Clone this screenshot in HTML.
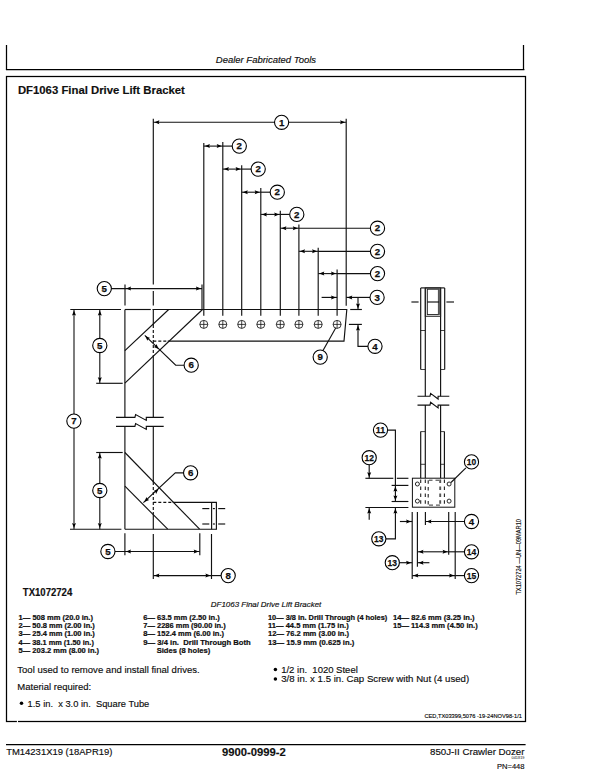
<!DOCTYPE html>
<html><head><meta charset="utf-8"><style>
html,body{margin:0;padding:0;background:#fff;}
body{width:603px;height:779px;overflow:hidden;}
svg{display:block;font-family:"Liberation Sans",sans-serif;fill:#111;}
svg text{fill:#111;white-space:pre;}
</style></head><body>
<svg width="603" height="779" viewBox="0 0 603 779">
<line x1="6.5" y1="45" x2="6.5" y2="69.5" stroke="#000" stroke-width="1.25"/>
<line x1="523.5" y1="45" x2="523.5" y2="69.5" stroke="#000" stroke-width="1.25"/>
<line x1="5.9" y1="69.5" x2="524.4" y2="69.5" stroke="#000" stroke-width="1.25"/>
<rect x="6.5" y="76.5" width="519" height="645" fill="none" stroke="#000" stroke-width="1.25"/>
<line x1="6" y1="744.5" x2="525.6" y2="744.5" stroke="#000" stroke-width="1.25"/>
<rect x="16.9" y="720" width="1.1" height="3" fill="#fff"/>
<text x="215.8" y="62.9" font-size="9.5" font-weight="normal" font-style="italic" text-anchor="start" textLength="100.3" lengthAdjust="spacingAndGlyphs" stroke="#000" stroke-width="0.15">Dealer Fabricated Tools</text>
<text x="17.9" y="94.2" font-size="11.3" font-weight="bold" font-style="normal" text-anchor="start" textLength="167" lengthAdjust="spacingAndGlyphs" stroke="#000" stroke-width="0.15">DF1063 Final Drive Lift Bracket</text>
<text x="22.8" y="595.9" font-size="10.2" font-weight="bold" font-style="normal" text-anchor="start" textLength="49.4" lengthAdjust="spacingAndGlyphs" stroke="#000" stroke-width="0.15">TX1072724</text>
<text x="210.8" y="606.6" font-size="7.9" font-weight="normal" font-style="italic" text-anchor="start" textLength="110.5" lengthAdjust="spacingAndGlyphs" stroke="#000" stroke-width="0.15">DF1063 Final Drive Lift Bracket</text>
<text x="18.6" y="619.7" font-size="7.6" font-weight="bold" font-style="normal" text-anchor="start" textLength="74.38" lengthAdjust="spacingAndGlyphs" stroke="#000" stroke-width="0.2">1— 508 mm (20.0 in.)</text>
<text x="18.6" y="628.3" font-size="7.6" font-weight="bold" font-style="normal" text-anchor="start" textLength="76.29" lengthAdjust="spacingAndGlyphs" stroke="#000" stroke-width="0.2">2— 50.8 mm (2.00 in.)</text>
<text x="18.6" y="636.2" font-size="7.6" font-weight="bold" font-style="normal" text-anchor="start" textLength="76.29" lengthAdjust="spacingAndGlyphs" stroke="#000" stroke-width="0.2">3— 25.4 mm (1.00 in.)</text>
<text x="18.6" y="644.8" font-size="7.6" font-weight="bold" font-style="normal" text-anchor="start" textLength="75.31" lengthAdjust="spacingAndGlyphs" stroke="#000" stroke-width="0.2">4— 38.1 mm (1.50 in.)</text>
<text x="18.6" y="652.6" font-size="7.6" font-weight="bold" font-style="normal" text-anchor="start" textLength="80.51" lengthAdjust="spacingAndGlyphs" stroke="#000" stroke-width="0.2">5— 203.2 mm (8.00 in.)</text>
<text x="143.3" y="619.7" font-size="7.6" font-weight="bold" font-style="normal" text-anchor="start" textLength="76.5" lengthAdjust="spacingAndGlyphs" stroke="#000" stroke-width="0.2">6— 63.5 mm (2.50 in.)</text>
<text x="143.3" y="628.3" font-size="7.6" font-weight="bold" font-style="normal" text-anchor="start" textLength="82.34" lengthAdjust="spacingAndGlyphs" stroke="#000" stroke-width="0.2">7— 2286 mm (90.00 in.)</text>
<text x="143.3" y="636.2" font-size="7.6" font-weight="bold" font-style="normal" text-anchor="start" textLength="80.73" lengthAdjust="spacingAndGlyphs" stroke="#000" stroke-width="0.2">8— 152.4 mm (6.00 in.)</text>
<text x="143.3" y="644.8" font-size="7.6" font-weight="bold" font-style="normal" text-anchor="start" textLength="107.42" lengthAdjust="spacingAndGlyphs" stroke="#000" stroke-width="0.2">9— 3/4 in.  Drill Through Both</text>
<text x="156.7" y="652.6" font-size="7.6" font-weight="bold" font-style="normal" text-anchor="start" textLength="53.53" lengthAdjust="spacingAndGlyphs" stroke="#000" stroke-width="0.2">Sides (8 holes)</text>
<text x="268.0" y="619.7" font-size="7.6" font-weight="bold" font-style="normal" text-anchor="start" textLength="119.3" lengthAdjust="spacingAndGlyphs" stroke="#000" stroke-width="0.2">10— 3/8 in. Drill Through (4 holes)</text>
<text x="268.0" y="628.3" font-size="7.6" font-weight="bold" font-style="normal" text-anchor="start" textLength="80.7" lengthAdjust="spacingAndGlyphs" stroke="#000" stroke-width="0.2">11— 44.5 mm (1.75 in.)</text>
<text x="268.0" y="636.2" font-size="7.6" font-weight="bold" font-style="normal" text-anchor="start" textLength="81.12" lengthAdjust="spacingAndGlyphs" stroke="#000" stroke-width="0.2">12— 76.2 mm (3.00 in.)</text>
<text x="268.0" y="644.8" font-size="7.6" font-weight="bold" font-style="normal" text-anchor="start" textLength="86.35" lengthAdjust="spacingAndGlyphs" stroke="#000" stroke-width="0.2">13— 15.9 mm (0.625 in.)</text>
<text x="393.0" y="619.7" font-size="7.6" font-weight="bold" font-style="normal" text-anchor="start" textLength="81.63" lengthAdjust="spacingAndGlyphs" stroke="#000" stroke-width="0.2">14— 82.6 mm (3.25 in.)</text>
<text x="393.0" y="628.3" font-size="7.6" font-weight="bold" font-style="normal" text-anchor="start" textLength="84.73" lengthAdjust="spacingAndGlyphs" stroke="#000" stroke-width="0.2">15— 114.3 mm (4.50 in.)</text>
<text x="17.3" y="673.2" font-size="9.5" font-weight="normal" font-style="normal" text-anchor="start" textLength="182.4" lengthAdjust="spacingAndGlyphs" stroke="#000" stroke-width="0.15">Tool used to remove and install final drives.</text>
<text x="17.3" y="690.3" font-size="9.5" font-weight="normal" font-style="normal" text-anchor="start" stroke="#000" stroke-width="0.15">Material required:</text>
<circle cx="21.5" cy="703.3" r="1.75" fill="#000"/>
<text x="27.6" y="706.8" font-size="9.5" font-weight="normal" font-style="normal" text-anchor="start" textLength="121.7" lengthAdjust="spacingAndGlyphs" stroke="#000" stroke-width="0.15">1.5 in.  x 3.0 in.  Square Tube</text>
<circle cx="275.4" cy="669.4" r="1.75" fill="#000"/>
<text x="281.2" y="672.9" font-size="9.5" font-weight="normal" font-style="normal" text-anchor="start" stroke="#000" stroke-width="0.15">1/2 in.  1020 Steel</text>
<circle cx="275.4" cy="678.9" r="1.75" fill="#000"/>
<text x="281.2" y="682.4" font-size="9.5" font-weight="normal" font-style="normal" text-anchor="start" textLength="188" lengthAdjust="spacingAndGlyphs" stroke="#000" stroke-width="0.15">3/8 in. x 1.5 in. Cap Screw with Nut (4 used)</text>
<text x="424.4" y="717.9" font-size="5.7" font-weight="normal" font-style="normal" text-anchor="start" textLength="97.5" lengthAdjust="spacingAndGlyphs" stroke="#000" stroke-width="0.15">CED,TX03399,5076 -19-24NOV98-1/1</text>
<text x="6.2" y="755.4" font-size="9.5" font-weight="normal" font-style="normal" text-anchor="start" textLength="106.2" lengthAdjust="spacingAndGlyphs" stroke="#000" stroke-width="0.15">TM14231X19 (18APR19)</text>
<text x="221.9" y="755.9" font-size="11.3" font-weight="bold" font-style="normal" text-anchor="start" textLength="63.9" lengthAdjust="spacingAndGlyphs" stroke="#000" stroke-width="0.15">9900-0999-2</text>
<text x="430" y="755.1" font-size="9.7" font-weight="normal" font-style="normal" text-anchor="start" textLength="94.5" lengthAdjust="spacingAndGlyphs" stroke="#000" stroke-width="0.15">850J-II Crawler Dozer</text>
<text x="511.5" y="759" font-size="3" font-weight="normal" font-style="normal" text-anchor="start" textLength="13" lengthAdjust="spacingAndGlyphs">041819</text>
<text x="497" y="768.7" font-size="7.5" font-weight="normal" font-style="normal" text-anchor="start" textLength="27.5" lengthAdjust="spacingAndGlyphs" stroke="#000" stroke-width="0.15">PN=448</text>
<text x="0" y="0" font-size="6.4" textLength="75.6" lengthAdjust="spacingAndGlyphs" stroke="#000" stroke-width="0.12" transform="translate(520.5,594.6) rotate(-90)">TX1072724 —UN—09MAR10</text>
<line x1="153.3" y1="118.7" x2="153.3" y2="284.5" stroke="#111" stroke-width="1.15"/>
<line x1="153.3" y1="291" x2="153.3" y2="305.5" stroke="#111" stroke-width="1.15"/>
<line x1="153.3" y1="309.5" x2="153.3" y2="325" stroke="#111" stroke-width="1.15"/>
<line x1="153.3" y1="325" x2="153.3" y2="357" stroke="#111" stroke-width="1.15" stroke-dasharray="3,2"/>
<line x1="153.3" y1="357" x2="153.3" y2="417.4" stroke="#111" stroke-width="1.15"/>
<line x1="346.2" y1="118.7" x2="346.2" y2="305.7" stroke="#111" stroke-width="1.15"/>
<line x1="153.3" y1="122.2" x2="346.2" y2="122.2" stroke="#111" stroke-width="1.1"/>
<polygon points="154.40,122.20 159.40,120.20 158.60,122.20 159.40,124.20" fill="#000"/>
<polygon points="345.10,122.20 340.10,124.20 340.90,122.20 340.10,120.20" fill="#000"/>
<circle cx="281.6" cy="122.3" r="7.1" fill="#fff" stroke="#000" stroke-width="1.1"/>
<text x="281.6" y="125.5" font-size="9.7" font-weight="bold" text-anchor="middle" stroke="#000" stroke-width="0.25">1</text>
<line x1="203.8" y1="142.9" x2="203.8" y2="315.7" stroke="#111" stroke-width="1.15"/>
<line x1="222.8" y1="142.0" x2="222.8" y2="315.7" stroke="#111" stroke-width="1.15"/>
<line x1="241.7" y1="165.2" x2="241.7" y2="315.7" stroke="#111" stroke-width="1.15"/>
<line x1="260.8" y1="188.0" x2="260.8" y2="315.7" stroke="#111" stroke-width="1.15"/>
<line x1="280.3" y1="210.8" x2="280.3" y2="315.7" stroke="#111" stroke-width="1.15"/>
<line x1="298.9" y1="224.5" x2="298.9" y2="315.7" stroke="#111" stroke-width="1.15"/>
<line x1="318.2" y1="247.7" x2="318.2" y2="315.7" stroke="#111" stroke-width="1.15"/>
<line x1="337.1" y1="269.6" x2="337.1" y2="315.7" stroke="#111" stroke-width="1.15"/>
<line x1="203.8" y1="146.1" x2="222.8" y2="146.1" stroke="#111" stroke-width="1.1"/>
<polygon points="204.90,146.10 209.90,144.10 209.10,146.10 209.90,148.10" fill="#000"/>
<polygon points="221.70,146.10 216.70,148.10 217.50,146.10 216.70,144.10" fill="#000"/>
<line x1="222.8" y1="146.1" x2="232.20000000000002" y2="146.1" stroke="#111" stroke-width="1.15"/>
<circle cx="239.3" cy="146.1" r="7.1" fill="#fff" stroke="#000" stroke-width="1.1"/>
<text x="239.3" y="149.29999999999998" font-size="9.7" font-weight="bold" text-anchor="middle" stroke="#000" stroke-width="0.25">2</text>
<line x1="222.8" y1="169.1" x2="241.7" y2="169.1" stroke="#111" stroke-width="1.1"/>
<polygon points="223.90,169.10 228.90,167.10 228.10,169.10 228.90,171.10" fill="#000"/>
<polygon points="240.60,169.10 235.60,171.10 236.40,169.10 235.60,167.10" fill="#000"/>
<line x1="241.7" y1="169.1" x2="251.1" y2="169.1" stroke="#111" stroke-width="1.15"/>
<circle cx="258.2" cy="169.1" r="7.1" fill="#fff" stroke="#000" stroke-width="1.1"/>
<text x="258.2" y="172.29999999999998" font-size="9.7" font-weight="bold" text-anchor="middle" stroke="#000" stroke-width="0.25">2</text>
<line x1="241.7" y1="192.2" x2="260.8" y2="192.2" stroke="#111" stroke-width="1.1"/>
<polygon points="242.80,192.20 247.80,190.20 247.00,192.20 247.80,194.20" fill="#000"/>
<polygon points="259.70,192.20 254.70,194.20 255.50,192.20 254.70,190.20" fill="#000"/>
<line x1="260.8" y1="192.2" x2="270.2" y2="192.2" stroke="#111" stroke-width="1.15"/>
<circle cx="277.3" cy="192.2" r="7.1" fill="#fff" stroke="#000" stroke-width="1.1"/>
<text x="277.3" y="195.39999999999998" font-size="9.7" font-weight="bold" text-anchor="middle" stroke="#000" stroke-width="0.25">2</text>
<line x1="260.8" y1="214.4" x2="280.3" y2="214.4" stroke="#111" stroke-width="1.1"/>
<polygon points="261.90,214.40 266.90,212.40 266.10,214.40 266.90,216.40" fill="#000"/>
<polygon points="279.20,214.40 274.20,216.40 275.00,214.40 274.20,212.40" fill="#000"/>
<line x1="280.3" y1="214.4" x2="289.7" y2="214.4" stroke="#111" stroke-width="1.15"/>
<circle cx="296.8" cy="214.4" r="7.1" fill="#fff" stroke="#000" stroke-width="1.1"/>
<text x="296.8" y="217.6" font-size="9.7" font-weight="bold" text-anchor="middle" stroke="#000" stroke-width="0.25">2</text>
<line x1="280.3" y1="228.2" x2="298.9" y2="228.2" stroke="#111" stroke-width="1.1"/>
<polygon points="281.40,228.20 286.40,226.20 285.60,228.20 286.40,230.20" fill="#000"/>
<polygon points="297.80,228.20 292.80,230.20 293.60,228.20 292.80,226.20" fill="#000"/>
<line x1="298.9" y1="228.2" x2="370.4" y2="228.2" stroke="#111" stroke-width="1.15"/>
<circle cx="377.5" cy="228.2" r="7.1" fill="#fff" stroke="#000" stroke-width="1.1"/>
<text x="377.5" y="231.39999999999998" font-size="9.7" font-weight="bold" text-anchor="middle" stroke="#000" stroke-width="0.25">2</text>
<line x1="298.9" y1="251.3" x2="318.2" y2="251.3" stroke="#111" stroke-width="1.1"/>
<polygon points="300.00,251.30 305.00,249.30 304.20,251.30 305.00,253.30" fill="#000"/>
<polygon points="317.10,251.30 312.10,253.30 312.90,251.30 312.10,249.30" fill="#000"/>
<line x1="318.2" y1="251.3" x2="370.4" y2="251.3" stroke="#111" stroke-width="1.15"/>
<circle cx="377.5" cy="251.3" r="7.1" fill="#fff" stroke="#000" stroke-width="1.1"/>
<text x="377.5" y="254.5" font-size="9.7" font-weight="bold" text-anchor="middle" stroke="#000" stroke-width="0.25">2</text>
<line x1="318.2" y1="273.6" x2="337.1" y2="273.6" stroke="#111" stroke-width="1.1"/>
<polygon points="319.30,273.60 324.30,271.60 323.50,273.60 324.30,275.60" fill="#000"/>
<polygon points="336.00,273.60 331.00,275.60 331.80,273.60 331.00,271.60" fill="#000"/>
<line x1="337.1" y1="273.6" x2="370.4" y2="273.6" stroke="#111" stroke-width="1.15"/>
<circle cx="377.5" cy="273.6" r="7.1" fill="#fff" stroke="#000" stroke-width="1.1"/>
<text x="377.5" y="276.8" font-size="9.7" font-weight="bold" text-anchor="middle" stroke="#000" stroke-width="0.25">2</text>
<line x1="321.6" y1="297.4" x2="337.1" y2="297.4" stroke="#111" stroke-width="1.15"/>
<polygon points="336.00,297.40 331.00,299.40 331.80,297.40 331.00,295.40" fill="#000"/>
<line x1="346.2" y1="297.4" x2="370" y2="297.4" stroke="#111" stroke-width="1.15"/>
<polygon points="347.30,297.40 352.30,295.40 351.50,297.40 352.30,299.40" fill="#000"/>
<circle cx="377.1" cy="297.4" r="7.1" fill="#fff" stroke="#000" stroke-width="1.1"/>
<text x="377.1" y="300.59999999999997" font-size="9.7" font-weight="bold" text-anchor="middle" stroke="#000" stroke-width="0.25">3</text>
<line x1="358" y1="297.4" x2="358" y2="309.5" stroke="#111" stroke-width="1.15"/>
<polygon points="358.00,308.40 356.00,303.40 358.00,304.20 360.00,303.40" fill="#000"/>
<line x1="350.2" y1="309.5" x2="361.9" y2="309.5" stroke="#111" stroke-width="1.15"/>
<line x1="348.9" y1="324.4" x2="361.9" y2="324.4" stroke="#111" stroke-width="1.15"/>
<polyline points="358,324.4 358,346.3 368,346.3" fill="none" stroke="#111" stroke-width="1.15"/>
<polygon points="358.00,325.50 360.00,330.50 358.00,329.70 356.00,330.50" fill="#000"/>
<circle cx="375" cy="346.3" r="7.1" fill="#fff" stroke="#000" stroke-width="1.1"/>
<text x="375" y="349.5" font-size="9.7" font-weight="bold" text-anchor="middle" stroke="#000" stroke-width="0.25">4</text>
<polyline points="125,309.5 150.8,309.5" fill="none" stroke="#111" stroke-width="1.15"/>
<polyline points="152.5,309.5 346.8,309.5 344,341.1 167.7,341.1" fill="none" stroke="#111" stroke-width="1.15"/>
<line x1="153.3" y1="341.1" x2="167.7" y2="341.1" stroke="#111" stroke-width="1.15" stroke-dasharray="3,2"/>
<circle cx="203.8" cy="324.4" r="4" fill="#fff" stroke="#222" stroke-width="0.9"/>
<line x1="199.8" y1="324.4" x2="207.8" y2="324.4" stroke="#111" stroke-width="0.8"/>
<line x1="203.8" y1="320.4" x2="203.8" y2="328.4" stroke="#111" stroke-width="0.8"/>
<circle cx="222.8" cy="324.4" r="4" fill="#fff" stroke="#222" stroke-width="0.9"/>
<line x1="218.8" y1="324.4" x2="226.8" y2="324.4" stroke="#111" stroke-width="0.8"/>
<line x1="222.8" y1="320.4" x2="222.8" y2="328.4" stroke="#111" stroke-width="0.8"/>
<circle cx="241.7" cy="324.4" r="4" fill="#fff" stroke="#222" stroke-width="0.9"/>
<line x1="237.7" y1="324.4" x2="245.7" y2="324.4" stroke="#111" stroke-width="0.8"/>
<line x1="241.7" y1="320.4" x2="241.7" y2="328.4" stroke="#111" stroke-width="0.8"/>
<circle cx="260.8" cy="324.4" r="4" fill="#fff" stroke="#222" stroke-width="0.9"/>
<line x1="256.8" y1="324.4" x2="264.8" y2="324.4" stroke="#111" stroke-width="0.8"/>
<line x1="260.8" y1="320.4" x2="260.8" y2="328.4" stroke="#111" stroke-width="0.8"/>
<circle cx="280.3" cy="324.4" r="4" fill="#fff" stroke="#222" stroke-width="0.9"/>
<line x1="276.3" y1="324.4" x2="284.3" y2="324.4" stroke="#111" stroke-width="0.8"/>
<line x1="280.3" y1="320.4" x2="280.3" y2="328.4" stroke="#111" stroke-width="0.8"/>
<circle cx="298.9" cy="324.4" r="4" fill="#fff" stroke="#222" stroke-width="0.9"/>
<line x1="294.9" y1="324.4" x2="302.9" y2="324.4" stroke="#111" stroke-width="0.8"/>
<line x1="298.9" y1="320.4" x2="298.9" y2="328.4" stroke="#111" stroke-width="0.8"/>
<circle cx="318.2" cy="324.4" r="4" fill="#fff" stroke="#222" stroke-width="0.9"/>
<line x1="314.2" y1="324.4" x2="322.2" y2="324.4" stroke="#111" stroke-width="0.8"/>
<line x1="318.2" y1="320.4" x2="318.2" y2="328.4" stroke="#111" stroke-width="0.8"/>
<circle cx="337.1" cy="324.4" r="4" fill="#fff" stroke="#222" stroke-width="0.9"/>
<line x1="333.1" y1="324.4" x2="341.1" y2="324.4" stroke="#111" stroke-width="0.8"/>
<line x1="337.1" y1="320.4" x2="337.1" y2="328.4" stroke="#111" stroke-width="0.8"/>
<circle cx="320.2" cy="357.1" r="7.1" fill="#fff" stroke="#000" stroke-width="1.1"/>
<text x="320.2" y="360.3" font-size="9.7" font-weight="bold" text-anchor="middle" stroke="#000" stroke-width="0.25">9</text>
<line x1="323" y1="350.5" x2="335.7" y2="328" stroke="#111" stroke-width="1.15"/>
<line x1="202" y1="284.6" x2="202" y2="309.5" stroke="#111" stroke-width="1.15"/>
<line x1="125" y1="284.6" x2="125" y2="305.5" stroke="#111" stroke-width="1.15"/>
<line x1="111.2" y1="288.6" x2="202" y2="288.6" stroke="#111" stroke-width="1.15"/>
<polygon points="126.10,288.60 131.10,286.60 130.30,288.60 131.10,290.60" fill="#000"/>
<polygon points="200.90,288.60 195.90,290.60 196.70,288.60 195.90,286.60" fill="#000"/>
<circle cx="104.3" cy="288.6" r="7.1" fill="#fff" stroke="#000" stroke-width="1.1"/>
<text x="104.3" y="291.8" font-size="9.7" font-weight="bold" text-anchor="middle" stroke="#000" stroke-width="0.25">5</text>
<line x1="124.9" y1="309.5" x2="124.9" y2="417.4" stroke="#111" stroke-width="1.15"/>
<line x1="124.9" y1="426.4" x2="124.9" y2="529.2" stroke="#111" stroke-width="1.15"/>
<line x1="153.3" y1="426.4" x2="153.3" y2="482" stroke="#111" stroke-width="1.15"/>
<line x1="153.3" y1="482" x2="153.3" y2="515" stroke="#111" stroke-width="1.15" stroke-dasharray="3,2"/>
<line x1="153.3" y1="515" x2="153.3" y2="529.2" stroke="#111" stroke-width="1.15"/>
<line x1="70.3" y1="309.5" x2="121" y2="309.5" stroke="#111" stroke-width="1.15"/>
<line x1="74" y1="309.5" x2="74" y2="529.2" stroke="#111" stroke-width="1.1"/>
<polygon points="74.00,310.60 76.00,315.60 74.00,314.80 72.00,315.60" fill="#000"/>
<polygon points="74.00,528.10 72.00,523.10 74.00,523.90 76.00,523.10" fill="#000"/>
<circle cx="73.9" cy="421.1" r="7.1" fill="#fff" stroke="#000" stroke-width="1.1"/>
<text x="73.9" y="424.3" font-size="9.7" font-weight="bold" text-anchor="middle" stroke="#000" stroke-width="0.25">7</text>
<line x1="99.8" y1="309.5" x2="99.8" y2="383.3" stroke="#111" stroke-width="1.1"/>
<polygon points="99.80,310.60 101.80,315.60 99.80,314.80 97.80,315.60" fill="#000"/>
<polygon points="99.80,382.20 97.80,377.20 99.80,378.00 101.80,377.20" fill="#000"/>
<circle cx="99.8" cy="345.5" r="7.1" fill="#fff" stroke="#000" stroke-width="1.1"/>
<text x="99.8" y="348.7" font-size="9.7" font-weight="bold" text-anchor="middle" stroke="#000" stroke-width="0.25">5</text>
<line x1="96.2" y1="383.3" x2="122.7" y2="383.3" stroke="#111" stroke-width="1.15"/>
<line x1="124.9" y1="350.7" x2="168.7" y2="309.5" stroke="#111" stroke-width="1.15"/>
<line x1="124.9" y1="383.1" x2="202.5" y2="309.5" stroke="#111" stroke-width="1.15"/>
<circle cx="191.2" cy="365.2" r="7.1" fill="#fff" stroke="#000" stroke-width="1.1"/>
<text x="191.2" y="368.4" font-size="9.7" font-weight="bold" text-anchor="middle" stroke="#000" stroke-width="0.25">6</text>
<polyline points="184,365.2 175.7,365.2 144.8,335.4" fill="none" stroke="#111" stroke-width="1.15"/>
<polygon points="145.19,335.96 150.19,337.98 148.23,338.87 147.42,340.86" fill="#000"/>
<polygon points="158.62,349.03 153.65,346.94 155.63,346.08 156.46,344.09" fill="#000"/>
<polyline points="116,417.4 134.9,417.4 135.6,414.5 146.3,420.4 146.3,417.4 163.7,417.4" fill="none" stroke="#111" stroke-width="1.15"/>
<polyline points="116,426.4 134.9,426.4 135.6,423.5 146.3,429.4 146.3,426.4 163.7,426.4" fill="none" stroke="#111" stroke-width="1.15"/>
<line x1="96.2" y1="452.5" x2="122.7" y2="452.5" stroke="#111" stroke-width="1.15"/>
<line x1="99.8" y1="452.5" x2="99.8" y2="529.2" stroke="#111" stroke-width="1.1"/>
<polygon points="99.80,453.60 101.80,458.60 99.80,457.80 97.80,458.60" fill="#000"/>
<polygon points="99.80,528.10 97.80,523.10 99.80,523.90 101.80,523.10" fill="#000"/>
<circle cx="99.8" cy="490.5" r="7.1" fill="#fff" stroke="#000" stroke-width="1.1"/>
<text x="99.8" y="493.7" font-size="9.7" font-weight="bold" text-anchor="middle" stroke="#000" stroke-width="0.25">5</text>
<line x1="124.9" y1="452.5" x2="199.6" y2="529.2" stroke="#111" stroke-width="1.15"/>
<line x1="124.9" y1="486.2" x2="167.7" y2="529.2" stroke="#111" stroke-width="1.15"/>
<line x1="70" y1="529.2" x2="121.4" y2="529.2" stroke="#111" stroke-width="1.15"/>
<line x1="124.9" y1="529.2" x2="216.9" y2="529.2" stroke="#111" stroke-width="1.15"/>
<line x1="172.7" y1="502.3" x2="216.9" y2="502.3" stroke="#111" stroke-width="1.15"/>
<line x1="153.3" y1="502.3" x2="172.7" y2="502.3" stroke="#111" stroke-width="1.15" stroke-dasharray="3,2"/>
<line x1="211.6" y1="502.3" x2="211.6" y2="529.2" stroke="#111" stroke-width="1.15"/>
<line x1="216.4" y1="502.3" x2="216.4" y2="529.2" stroke="#111" stroke-width="1.15"/>
<line x1="202.3" y1="508.6" x2="209.3" y2="508.6" stroke="#111" stroke-width="1.15"/>
<line x1="212.9" y1="508.6" x2="214.9" y2="508.6" stroke="#111" stroke-width="1.15"/>
<line x1="218.2" y1="508.6" x2="225.2" y2="508.6" stroke="#111" stroke-width="1.15"/>
<line x1="202.3" y1="524.0" x2="209.3" y2="524.0" stroke="#111" stroke-width="1.15"/>
<line x1="212.9" y1="524.0" x2="214.9" y2="524.0" stroke="#111" stroke-width="1.15"/>
<line x1="218.2" y1="524.0" x2="225.2" y2="524.0" stroke="#111" stroke-width="1.15"/>
<circle cx="190.6" cy="472.8" r="7.1" fill="#fff" stroke="#000" stroke-width="1.1"/>
<text x="190.6" y="476.0" font-size="9.7" font-weight="bold" text-anchor="middle" stroke="#000" stroke-width="0.25">6</text>
<polyline points="183.5,472.8 175.3,472.8 143.4,502.7" fill="none" stroke="#111" stroke-width="1.15"/>
<polygon points="144.20,501.95 146.48,497.07 147.27,499.08 149.22,499.99" fill="#000"/>
<polygon points="158.48,489.04 156.12,493.88 155.37,491.86 153.44,490.91" fill="#000"/>
<line x1="124.9" y1="533.3" x2="124.9" y2="555.3" stroke="#111" stroke-width="1.15"/>
<line x1="199.8" y1="533.3" x2="199.8" y2="555.3" stroke="#111" stroke-width="1.15"/>
<line x1="115" y1="551.5" x2="199.8" y2="551.5" stroke="#111" stroke-width="1.15"/>
<polygon points="126.00,551.50 131.00,549.50 130.20,551.50 131.00,553.50" fill="#000"/>
<polygon points="198.70,551.50 193.70,553.50 194.50,551.50 193.70,549.50" fill="#000"/>
<circle cx="107.9" cy="551.5" r="7.1" fill="#fff" stroke="#000" stroke-width="1.1"/>
<text x="107.9" y="554.7" font-size="9.7" font-weight="bold" text-anchor="middle" stroke="#000" stroke-width="0.25">5</text>
<line x1="153.3" y1="534" x2="153.3" y2="579" stroke="#111" stroke-width="1.15"/>
<line x1="211.5" y1="534" x2="211.5" y2="579" stroke="#111" stroke-width="1.15"/>
<line x1="153.3" y1="575.6" x2="211.5" y2="575.6" stroke="#111" stroke-width="1.1"/>
<polygon points="154.40,575.60 159.40,573.60 158.60,575.60 159.40,577.60" fill="#000"/>
<polygon points="210.40,575.60 205.40,577.60 206.20,575.60 205.40,573.60" fill="#000"/>
<line x1="211.5" y1="575.6" x2="221" y2="575.6" stroke="#111" stroke-width="1.15"/>
<circle cx="228.2" cy="575.6" r="7.1" fill="#fff" stroke="#000" stroke-width="1.1"/>
<text x="228.2" y="578.8000000000001" font-size="9.7" font-weight="bold" text-anchor="middle" stroke="#000" stroke-width="0.25">8</text>
<line x1="420.7" y1="287.9" x2="420.7" y2="369.5" stroke="#111" stroke-width="1.15"/>
<line x1="444.7" y1="287.9" x2="444.7" y2="369.5" stroke="#111" stroke-width="1.15"/>
<line x1="425.3" y1="287.9" x2="425.3" y2="396.2" stroke="#111" stroke-width="1.15"/>
<line x1="440.6" y1="287.9" x2="440.6" y2="396.2" stroke="#111" stroke-width="1.15"/>
<line x1="420.7" y1="287.9" x2="444.7" y2="287.9" stroke="#111" stroke-width="1.15"/>
<line x1="420.7" y1="330.5" x2="425.3" y2="330.5" stroke="#111" stroke-width="0.8"/>
<line x1="440.6" y1="330.5" x2="444.7" y2="330.5" stroke="#111" stroke-width="0.8"/>
<line x1="420.7" y1="369.5" x2="425.3" y2="369.5" stroke="#111" stroke-width="0.8"/>
<line x1="440.6" y1="369.5" x2="444.7" y2="369.5" stroke="#111" stroke-width="0.8"/>
<rect x="425.3" y="287.9" width="15.3" height="28.4" fill="none" stroke="#222" stroke-width="1"/>
<rect x="427.3" y="289.2" width="11.8" height="25.4" fill="none" stroke="#222" stroke-width="1"/>
<line x1="438.8" y1="289.2" x2="438.8" y2="314.6" stroke="#555" stroke-width="1.8"/>
<line x1="427.3" y1="302" x2="439.1" y2="302" stroke="#111" stroke-width="1.15"/>
<line x1="411.4" y1="302" x2="418.6" y2="302" stroke="#111" stroke-width="1.15"/>
<line x1="446.4" y1="302" x2="454" y2="302" stroke="#111" stroke-width="1.15"/>
<polyline points="417.5,396.2 430,396.2 430.6,393.4 438.1,399.0 438.1,396.2 449.3,396.2" fill="none" stroke="#111" stroke-width="1.15"/>
<polyline points="417.5,405.1 430,405.1 430.6,402.3 438.1,407.90000000000003 438.1,405.1 449.3,405.1" fill="none" stroke="#111" stroke-width="1.15"/>
<line x1="425.3" y1="405.1" x2="425.3" y2="478.2" stroke="#111" stroke-width="1.15"/>
<line x1="440.6" y1="405.1" x2="440.6" y2="478.2" stroke="#111" stroke-width="1.15"/>
<line x1="420.7" y1="431.6" x2="420.7" y2="478.2" stroke="#111" stroke-width="1.15"/>
<line x1="444.4" y1="431.6" x2="444.4" y2="478.2" stroke="#111" stroke-width="1.15"/>
<line x1="420.7" y1="431.6" x2="425.3" y2="431.6" stroke="#111" stroke-width="0.8"/>
<line x1="440.6" y1="431.6" x2="444.4" y2="431.6" stroke="#111" stroke-width="0.8"/>
<line x1="420.7" y1="464.3" x2="425.3" y2="464.3" stroke="#111" stroke-width="0.8"/>
<line x1="440.6" y1="464.3" x2="444.4" y2="464.3" stroke="#111" stroke-width="0.8"/>
<rect x="412.4" y="478.2" width="42.4" height="29" fill="#fff" stroke="#111" stroke-width="1"/>
<line x1="420.7" y1="479.6" x2="420.7" y2="507" stroke="#222" stroke-width="1.1" stroke-dasharray="3.5,3.4"/>
<line x1="425.3" y1="479.6" x2="425.3" y2="507" stroke="#222" stroke-width="1.1" stroke-dasharray="3.5,3.4"/>
<line x1="444.4" y1="479.6" x2="444.4" y2="507" stroke="#222" stroke-width="1.1" stroke-dasharray="3.5,3.4"/>
<line x1="440.2" y1="479.6" x2="440.2" y2="507" stroke="#555" stroke-width="1.9" stroke-dasharray="3.5,3.4"/>
<line x1="428.2" y1="480.2" x2="428.2" y2="505.1" stroke="#222" stroke-width="1.1" stroke-dasharray="3.5,3.4"/>
<line x1="429" y1="480.2" x2="440" y2="480.2" stroke="#333" stroke-width="1.0" stroke-dasharray="3.5,3"/>
<line x1="429" y1="505.1" x2="440" y2="505.1" stroke="#333" stroke-width="1.0" stroke-dasharray="4,3"/>
<circle cx="417.4" cy="484" r="2" fill="#fff" stroke="#111" stroke-width="0.9"/>
<circle cx="449.1" cy="484" r="2" fill="#fff" stroke="#111" stroke-width="0.9"/>
<circle cx="417.4" cy="501.1" r="2" fill="#fff" stroke="#111" stroke-width="0.9"/>
<circle cx="449.1" cy="501.1" r="2" fill="#fff" stroke="#111" stroke-width="0.9"/>
<line x1="365.4" y1="478.3" x2="393.3" y2="478.3" stroke="#111" stroke-width="1.15"/>
<line x1="396.8" y1="478.3" x2="408.4" y2="478.3" stroke="#111" stroke-width="1.15"/>
<line x1="391.6" y1="485.4" x2="408.4" y2="485.4" stroke="#111" stroke-width="1.15"/>
<line x1="391.6" y1="501.5" x2="408.4" y2="501.5" stroke="#111" stroke-width="1.15"/>
<line x1="365.4" y1="507.5" x2="408.4" y2="507.5" stroke="#111" stroke-width="1.15"/>
<circle cx="380.5" cy="430.1" r="7.1" fill="#fff" stroke="#000" stroke-width="1.1"/>
<text x="375.8" y="433.3" font-size="9.7" font-weight="bold" text-anchor="start" textLength="9.4" lengthAdjust="spacingAndGlyphs" stroke="#000" stroke-width="0.25">11</text>
<polyline points="387.6,430.1 395.4,430.1 395.4,501.5" fill="none" stroke="#111" stroke-width="1.15"/>
<polygon points="395.40,486.50 397.40,491.50 395.40,490.70 393.40,491.50" fill="#000"/>
<polygon points="395.40,500.40 393.40,495.40 395.40,496.20 397.40,495.40" fill="#000"/>
<circle cx="369.2" cy="457.7" r="7.1" fill="#fff" stroke="#000" stroke-width="1.1"/>
<text x="364.5" y="460.9" font-size="9.7" font-weight="bold" text-anchor="start" textLength="9.4" lengthAdjust="spacingAndGlyphs" stroke="#000" stroke-width="0.25">12</text>
<line x1="369.2" y1="464.8" x2="369.2" y2="478.3" stroke="#111" stroke-width="1.15"/>
<polygon points="369.20,477.20 367.20,472.20 369.20,473.00 371.20,472.20" fill="#000"/>
<line x1="369.2" y1="507.5" x2="369.2" y2="519.7" stroke="#111" stroke-width="1.15"/>
<polygon points="369.20,508.60 371.20,513.60 369.20,512.80 367.20,513.60" fill="#000"/>
<polyline points="395.4,507.5 395.4,538.8 386,538.8" fill="none" stroke="#111" stroke-width="1.15"/>
<polygon points="395.40,508.60 397.40,513.60 395.40,512.80 393.40,513.60" fill="#000"/>
<circle cx="378.8" cy="538.8" r="7.1" fill="#fff" stroke="#000" stroke-width="1.1"/>
<text x="374.1" y="542.0" font-size="9.7" font-weight="bold" text-anchor="start" textLength="9.4" lengthAdjust="spacingAndGlyphs" stroke="#000" stroke-width="0.25">13</text>
<line x1="412.2" y1="511.9" x2="412.2" y2="579" stroke="#111" stroke-width="1.15"/>
<line x1="417.4" y1="511.9" x2="417.4" y2="566.7" stroke="#111" stroke-width="1.15"/>
<line x1="425.4" y1="511.9" x2="425.4" y2="524.9" stroke="#111" stroke-width="1.15"/>
<line x1="448.7" y1="511.9" x2="448.7" y2="554.8" stroke="#111" stroke-width="1.15"/>
<line x1="455.2" y1="511.9" x2="455.2" y2="579" stroke="#111" stroke-width="1.15"/>
<line x1="399.9" y1="521.5" x2="412.2" y2="521.5" stroke="#111" stroke-width="1.15"/>
<polygon points="411.10,521.50 406.10,523.50 406.90,521.50 406.10,519.50" fill="#000"/>
<line x1="425.4" y1="521.5" x2="464" y2="521.5" stroke="#111" stroke-width="1.15"/>
<polygon points="426.50,521.50 431.50,519.50 430.70,521.50 431.50,523.50" fill="#000"/>
<circle cx="471.5" cy="521.5" r="7.1" fill="#fff" stroke="#000" stroke-width="1.1"/>
<text x="471.5" y="524.7" font-size="9.7" font-weight="bold" text-anchor="middle" stroke="#000" stroke-width="0.25">4</text>
<line x1="417.4" y1="551.8" x2="448.7" y2="551.8" stroke="#111" stroke-width="1.1"/>
<polygon points="418.50,551.80 423.50,549.80 422.70,551.80 423.50,553.80" fill="#000"/>
<polygon points="447.60,551.80 442.60,553.80 443.40,551.80 442.60,549.80" fill="#000"/>
<line x1="448.7" y1="551.8" x2="464" y2="551.8" stroke="#111" stroke-width="1.15"/>
<circle cx="471.5" cy="551.8" r="7.1" fill="#fff" stroke="#000" stroke-width="1.1"/>
<text x="466.8" y="555.0" font-size="9.7" font-weight="bold" text-anchor="start" textLength="9.4" lengthAdjust="spacingAndGlyphs" stroke="#000" stroke-width="0.25">14</text>
<line x1="399.4" y1="562.7" x2="412.2" y2="562.7" stroke="#111" stroke-width="1.15"/>
<polygon points="411.10,562.70 406.10,564.70 406.90,562.70 406.10,560.70" fill="#000"/>
<line x1="417.4" y1="562.7" x2="429.4" y2="562.7" stroke="#111" stroke-width="1.15"/>
<polygon points="418.50,562.70 423.50,560.70 422.70,562.70 423.50,564.70" fill="#000"/>
<circle cx="392.3" cy="562.7" r="7.1" fill="#fff" stroke="#000" stroke-width="1.1"/>
<text x="387.6" y="565.9000000000001" font-size="9.7" font-weight="bold" text-anchor="start" textLength="9.4" lengthAdjust="spacingAndGlyphs" stroke="#000" stroke-width="0.25">13</text>
<line x1="412.2" y1="575.6" x2="455.2" y2="575.6" stroke="#111" stroke-width="1.1"/>
<polygon points="413.30,575.60 418.30,573.60 417.50,575.60 418.30,577.60" fill="#000"/>
<polygon points="454.10,575.60 449.10,577.60 449.90,575.60 449.10,573.60" fill="#000"/>
<line x1="455.2" y1="575.6" x2="464" y2="575.6" stroke="#111" stroke-width="1.15"/>
<circle cx="471.5" cy="575.6" r="7.1" fill="#fff" stroke="#000" stroke-width="1.1"/>
<text x="466.8" y="578.8000000000001" font-size="9.7" font-weight="bold" text-anchor="start" textLength="9.4" lengthAdjust="spacingAndGlyphs" stroke="#000" stroke-width="0.25">15</text>
<circle cx="471.5" cy="461.9" r="7.1" fill="#fff" stroke="#000" stroke-width="1.1"/>
<text x="466.8" y="465.09999999999997" font-size="9.7" font-weight="bold" text-anchor="start" textLength="9.4" lengthAdjust="spacingAndGlyphs" stroke="#000" stroke-width="0.25">10</text>
<line x1="465.9" y1="467.9" x2="451" y2="482.5" stroke="#111" stroke-width="1.15"/>
</svg>
</body></html>
